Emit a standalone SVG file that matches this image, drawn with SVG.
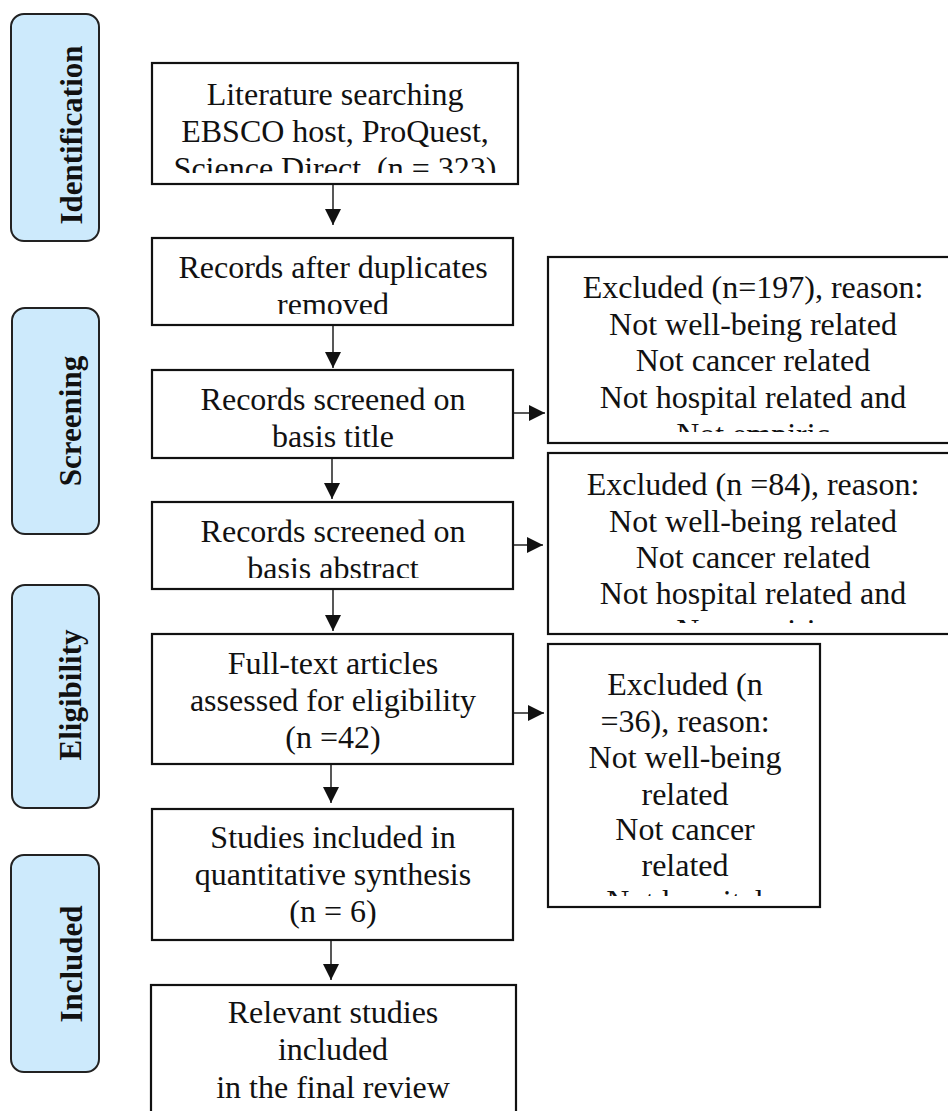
<svg xmlns="http://www.w3.org/2000/svg" width="948" height="1111" viewBox="0 0 948 1111">
<style>
.phase{fill:#cdeafc;stroke:#222;stroke-width:2}
.ptxt{font-family:"Liberation Serif","Times New Roman",serif;font-weight:bold;font-size:31px;fill:#111;text-anchor:middle}
.box{fill:#fff;stroke:#111;stroke-width:2.2}
.txt{font-family:"Liberation Serif","Times New Roman",serif;font-size:32px;fill:#111;text-anchor:middle}
.conn{stroke:#111;stroke-width:1.4;fill:none;marker-end:url(#ah)}
</style>
<defs>
<marker id="ah" markerUnits="userSpaceOnUse" markerWidth="16" markerHeight="16" viewBox="0 0 16 16" refX="16" refY="8" orient="auto">
<path d="M0,0 L16,8 L0,16 z" fill="#111"/>
</marker>
<clipPath id="c1"><rect x="152" y="63" width="366" height="110"/></clipPath>
<clipPath id="c2"><rect x="152" y="238" width="361" height="76"/></clipPath>
<clipPath id="c3"><rect x="152" y="370" width="361" height="77"/></clipPath>
<clipPath id="c4"><rect x="152" y="502" width="361" height="76"/></clipPath>
<clipPath id="ce1"><rect x="548" y="257" width="400" height="175"/></clipPath>
<clipPath id="ce2"><rect x="548" y="453" width="400" height="170"/></clipPath>
<clipPath id="ce3"><rect x="548" y="644" width="272" height="252"/></clipPath>
</defs>

<g id="phase-identification">
<rect class="phase" x="11" y="14" width="88" height="227" rx="13"/>
<text class="ptxt" transform="translate(82,135) rotate(-90)">Identification</text>
</g>
<g id="phase-screening">
<rect class="phase" x="12" y="308" width="87" height="226" rx="13"/>
<text class="ptxt" transform="translate(81,421) rotate(-90)">Screening</text>
</g>
<g id="phase-eligibility">
<rect class="phase" x="12" y="585" width="87" height="223" rx="13"/>
<text class="ptxt" transform="translate(81,695) rotate(-90)">Eligibility</text>
</g>
<g id="phase-included">
<rect class="phase" x="11" y="855" width="88" height="217" rx="13"/>
<text class="ptxt" transform="translate(82,964) rotate(-90)">Included</text>
</g>

<g id="node-search">
<rect class="box" x="152" y="63" width="366" height="121"/>
<g clip-path="url(#c1)">
<text class="txt" x="335" y="105">Literature searching</text>
<text class="txt" x="335" y="142">EBSCO host, ProQuest,</text>
<text class="txt" x="335" y="179" xml:space="preserve">Science Direct  (n = 323)</text>
</g>
</g>
<g id="node-duplicates">
<rect class="box" x="152" y="238" width="361" height="87"/>
<g clip-path="url(#c2)">
<text class="txt" x="333" y="278">Records after duplicates</text>
<text class="txt" x="333" y="315">removed</text>
</g>
</g>
<g id="node-title">
<rect class="box" x="152" y="370" width="361" height="88"/>
<g clip-path="url(#c3)">
<text class="txt" x="333" y="410">Records screened on</text>
<text class="txt" x="333" y="447">basis title</text>
</g>
</g>
<g id="node-abstract">
<rect class="box" x="152" y="502" width="361" height="87"/>
<g clip-path="url(#c4)">
<text class="txt" x="333" y="542">Records screened on</text>
<text class="txt" x="333" y="579">basis abstract</text>
</g>
</g>
<g id="node-fulltext">
<rect class="box" x="152" y="634" width="361" height="130"/>
<text class="txt" x="333" y="674">Full-text articles</text>
<text class="txt" x="333" y="711">assessed for eligibility</text>
<text class="txt" x="333" y="748">(n =42)</text>
</g>
<g id="node-studies">
<rect class="box" x="152" y="809" width="361" height="131"/>
<text class="txt" x="333" y="848">Studies included in</text>
<text class="txt" x="333" y="885">quantitative synthesis</text>
<text class="txt" x="333" y="922">(n = 6)</text>
</g>
<g id="node-relevant">
<rect class="box" x="151" y="985" width="365" height="140"/>
<text class="txt" x="333" y="1023">Relevant studies</text>
<text class="txt" x="333" y="1060">included</text>
<text class="txt" x="333" y="1098">in the final review</text>
</g>

<g id="node-excluded-197">
<rect class="box" x="548" y="257" width="412" height="186"/>
<g clip-path="url(#ce1)">
<text class="txt" x="753" y="298">Excluded (n=197), reason:</text>
<text class="txt" x="753" y="335">Not well-being related</text>
<text class="txt" x="753" y="371">Not cancer related</text>
<text class="txt" x="753" y="408">Not hospital related and</text>
<text class="txt" x="753" y="445">Not empiric</text>
</g>
</g>
<g id="node-excluded-84">
<rect class="box" x="548" y="453" width="412" height="181"/>
<g clip-path="url(#ce2)">
<text class="txt" x="753" y="495">Excluded (n =84), reason:</text>
<text class="txt" x="753" y="532">Not well-being related</text>
<text class="txt" x="753" y="568">Not cancer related</text>
<text class="txt" x="753" y="604">Not hospital related and</text>
<text class="txt" x="753" y="641">Not empiric</text>
</g>
</g>
<g id="node-excluded-36">
<rect class="box" x="548" y="644" width="272" height="263"/>
<g clip-path="url(#ce3)">
<text class="txt" x="685" y="695">Excluded (n</text>
<text class="txt" x="685" y="732">=36), reason:</text>
<text class="txt" x="685" y="768">Not well-being</text>
<text class="txt" x="685" y="805">related</text>
<text class="txt" x="685" y="840">Not cancer</text>
<text class="txt" x="685" y="876">related</text>
<text class="txt" x="685" y="912">Not hospital</text>
</g>
</g>

<g id="connectors">
<line class="conn" x1="333" y1="184" x2="333" y2="225"/>
<line class="conn" x1="333" y1="325" x2="333" y2="368"/>
<line class="conn" x1="332" y1="458" x2="332" y2="499"/>
<line class="conn" x1="333" y1="589" x2="333" y2="631"/>
<line class="conn" x1="331" y1="764" x2="331" y2="803"/>
<line class="conn" x1="331" y1="940" x2="331" y2="980"/>
<line class="conn" x1="513" y1="413" x2="545" y2="413"/>
<line class="conn" x1="513" y1="545" x2="543" y2="545"/>
<line class="conn" x1="513" y1="713" x2="544" y2="713"/>
</g>
</svg>
